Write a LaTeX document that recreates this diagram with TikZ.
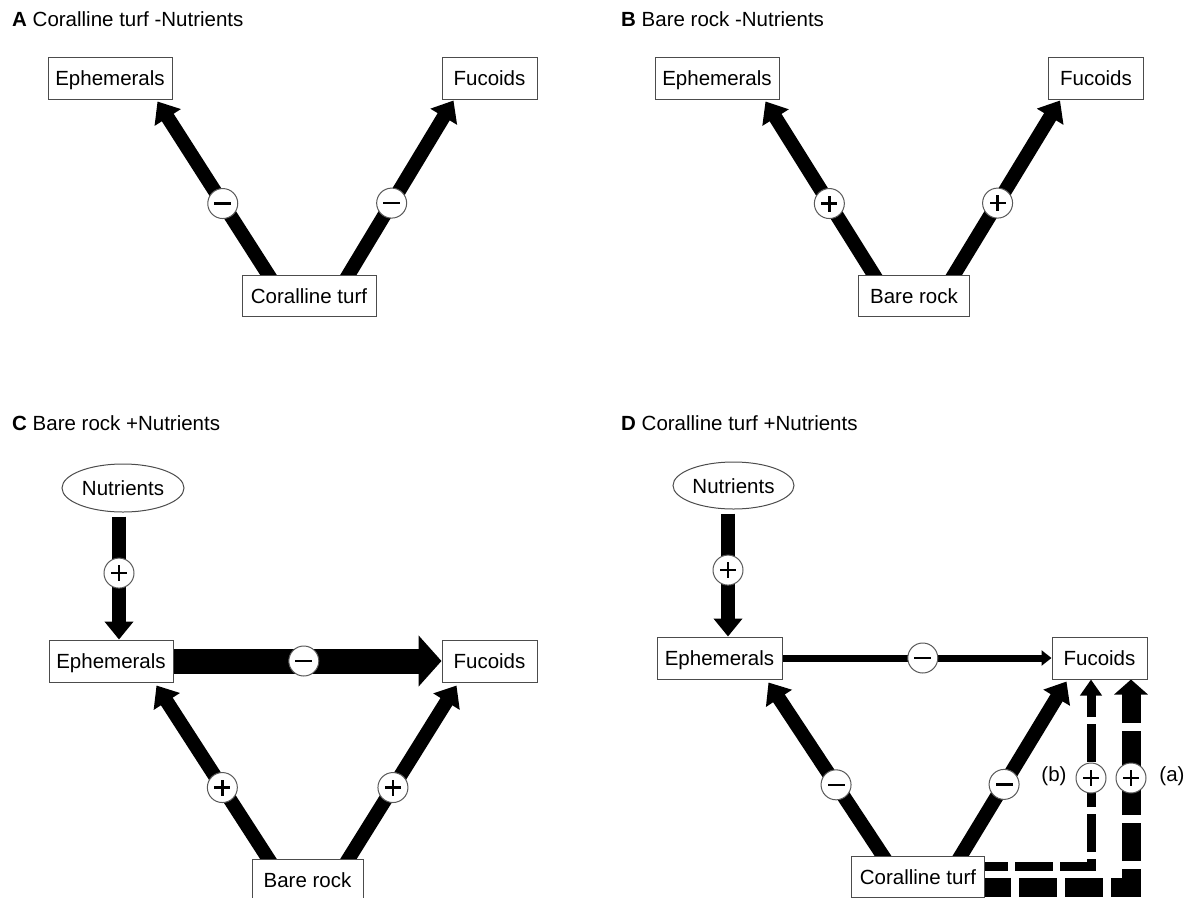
\documentclass[tikz,border=0pt]{standalone}
\usepackage{fontspec}
\setmainfont{Liberation Sans}
\usetikzlibrary{arrows.meta,shapes.geometric}
\pgfdeclarelayer{bg}
\pgfsetlayers{bg,main}
\begin{document}
\begin{tikzpicture}[x=1pt,y=-1pt,
  every node/.style={font=\fontsize{20.5}{24}\selectfont},
  box/.style={draw=black!70, line width=1pt, fill=white, minimum height=42pt, inner sep=0pt, text height=15pt, text depth=0pt},
  oval/.style={ellipse, draw=black!70, line width=1pt, fill=white, minimum width=122pt, minimum height=48pt, inner sep=0pt, text height=15pt, text depth=0pt},
  title/.style={anchor=base west, inner sep=0pt},
  plainlabel/.style={inner sep=0pt},
  signbase/.style={circle, draw=black!65, line width=1pt, fill=white, minimum size=30pt, inner sep=0pt},
  signminus/.style={signbase, path picture={\fill[black] ([xshift=-8.5pt,yshift=-1.25pt]path picture bounding box.center) rectangle ++(17pt,2.5pt);}},
  signplus/.style={signbase, path picture={\fill[black] ([xshift=-8pt,yshift=-1.25pt]path picture bounding box.center) rectangle ++(16pt,2.5pt); \fill[black] ([xshift=-1.25pt,yshift=-8pt]path picture bounding box.center) rectangle ++(2.5pt,16pt);}},
  diag/.style={line width=14pt, -{Triangle[width=30pt,length=19pt]}},
  vert/.style={line width=14pt, -{Triangle[width=28pt,length=18pt]}},
  fat/.style={line width=25pt, -{Triangle[width=50pt,length=23pt]}},
  slimarrow/.style={line width=7pt, -{Triangle[width=15pt,length=10pt]}},
  dashb/.style={line width=9pt, dash pattern=on 38pt off 7pt, dash phase=15pt, line join=miter, -{Triangle[width=21pt,length=16pt]}},
  dasha/.style={line width=19pt, dash pattern=on 38pt off 8pt, dash phase=12pt, line join=miter, -{Triangle[width=33pt,length=15pt]}}
]
\useasboundingbox (0,0) rectangle (1191,897);

% ---------- titles ----------
\node[title] (tA) at (12,26) {\textbf{A} Coralline turf -Nutrients};
\node[title] (tB) at (621,26) {\textbf{B} Bare rock -Nutrients};
\node[title] (tC) at (12,430) {\textbf{C} Bare rock +Nutrients};
\node[title] (tD) at (621,430) {\textbf{D} Coralline turf +Nutrients};

% ---------- panel A ----------
\node[box, minimum width=124pt] (ephA) at (110,78) {Ephemerals};
\node[box, minimum width=95pt] (fucA) at (489.5,78) {Fucoids};
\node[box, minimum width=134pt, minimum height=41pt] (ctA) at (309,295.5) {Coralline turf};

% ---------- panel B ----------
\node[box, minimum width=124pt] (ephB) at (717,78) {Ephemerals};
\node[box, minimum width=95pt] (fucB) at (1096,78) {Fucoids};
\node[box, minimum width=111pt, minimum height=41pt] (brB) at (914,295.5) {Bare rock};

% ---------- panel C ----------
\node[oval] (nutC) at (123,488) {Nutrients};
\node[box, minimum width=124pt] (ephC) at (111,661) {Ephemerals};
\node[box, minimum width=95pt] (fucC) at (489.5,661) {Fucoids};
\node[box, minimum width=111pt, minimum height=41pt] (brC) at (307.5,879.5) {Bare rock};

% ---------- panel D ----------
\node[oval, minimum width=121pt, minimum height=47pt] (nutD) at (733.5,485.5) {Nutrients};
\node[box, minimum width=125pt] (ephD) at (719.5,658) {Ephemerals};
\node[box, minimum width=95pt] (fucD) at (1099.5,658) {Fucoids};
\node[box, minimum width=133pt, minimum height=41pt] (ctD) at (918,877) {Coralline turf};

\node[plainlabel] (lb) at (1054,776) {(b)};
\node[plainlabel] (la) at (1172,776) {(a)};

\begin{pgfonlayer}{bg}
% A
\draw[diag] ([xshift=-37pt,yshift=-6pt]ctA.north) -- node[signminus,pos=0.43] (sA1) {} ([xshift=-15pt,yshift=-2pt]ephA.south east);
\draw[diag] ([xshift=36pt,yshift=-6pt]ctA.north) -- node[signminus,pos=0.43] (sA2) {} ([xshift=12pt,yshift=-1pt]fucA.south west);
% B
\draw[diag] ([xshift=-36.5pt,yshift=-6pt]brB.north) -- node[signplus,pos=0.43] (sB1) {} ([xshift=-14pt,yshift=-2pt]ephB.south east);
\draw[diag] ([xshift=36.5pt,yshift=-6pt]brB.north) -- node[signplus,pos=0.43] (sB2) {} ([xshift=12pt,yshift=-1pt]fucB.south west);
% C
\draw[vert] ([xshift=-4pt,yshift=-4pt]nutC.south) -- node[signplus,pos=0.46] (sC0) {} ([xshift=8pt]ephC.north);
\draw[fat] ([xshift=-2pt]ephC.east) -- node[signminus,pos=0.49] (sC3) {} (fucC.west);
\draw[diag] ([xshift=-35.5pt,yshift=-6pt]brC.north) -- node[signplus,pos=0.43] (sC1) {} ([xshift=-17pt,yshift=-3pt]ephC.south east);
\draw[diag] ([xshift=37.5pt,yshift=-6pt]brC.north) -- node[signplus,pos=0.43] (sC2) {} ([xshift=15pt,yshift=-3pt]fucC.south west);
% D
\draw[vert] ([xshift=-5.5pt,yshift=-4pt]nutD.south) -- node[signplus,pos=0.46] (sD0) {} ([xshift=8.5pt]ephD.north);
\draw[slimarrow] ([xshift=-2pt]ephD.east) -- node[signminus,pos=0.525] (sD3) {} (fucD.west);
\draw[diag] ([xshift=-31pt,yshift=-6pt]ctD.north) -- node[signminus,pos=0.43] (sD1) {} ([xshift=-14pt,yshift=-3pt]ephD.south east);
\draw[diag] ([xshift=39pt,yshift=-6pt]ctD.north) -- node[signminus,pos=0.43] (sD2) {} ([xshift=15pt,yshift=-2pt]fucD.south west);
\draw[dashb] ([yshift=11pt]ctD.east) -| ([xshift=-8.5pt]fucD.south);
\draw[dasha] ([yshift=-10pt]ctD.east) -| ([xshift=31.5pt]fucD.south);
\end{pgfonlayer}
\node[signplus] (sDb) at (1091,778) {};
\node[signplus] (sDa) at (1131,778) {};
\end{tikzpicture}
\end{document}
